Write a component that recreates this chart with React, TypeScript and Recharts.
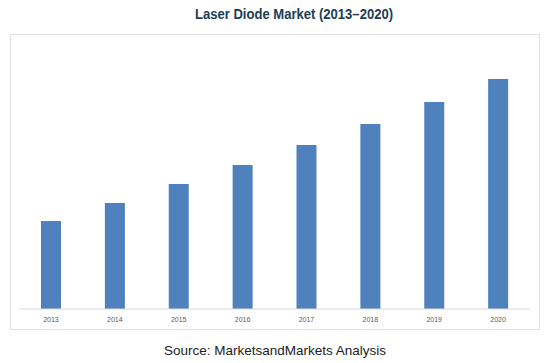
import { BarChart, Bar, XAxis, YAxis } from 'recharts'

// Laser Diode Market, 2013–2020 (arbitrary units)
const years = ['2013', '2014', '2015', '2016', '2017', '2018', '2019', '2020']
const marketSize = [4.4, 5.3, 6.25, 7.2, 8.2, 9.25, 10.35, 11.5]

const data = years.map((year, i) => ({ year, value: marketSize[i] }))

export default function App() {
  return (
    <div
      style={{
        position: 'absolute',
        left: 0,
        top: 0,
        width: 550,
        height: 363,
        background: '#fff',
        fontFamily: 'Arial, "Liberation Sans", sans-serif',
      }}
    >
      <div
        style={{
          position: 'absolute',
          left: 0,
          top: 6,
          width: 588,
          textAlign: 'center',
          fontFamily: '"Liberation Sans Narrow", "Arial Narrow", Arial, sans-serif',
          fontWeight: 'bold',
          fontSize: 14.5,
          color: '#1c3d55',
          transform: 'scaleX(0.9)',
          transformOrigin: '294px 0',
        }}
      >
        Laser Diode Market (2013–2020)
      </div>
      <div
        style={{
          position: 'absolute',
          left: 10,
          top: 34,
          width: 528,
          height: 294,
          border: '1px solid #e0e0e0',
        }}
      />
      <div style={{ position: 'absolute', left: 0, top: 0 }}>
        <BarChart
          width={550}
          height={363}
          data={data}
          margin={{ top: 69, right: 20, left: 19, bottom: 34 }}
          barSize={20}
        >
          <YAxis hide domain={[0, 12]} />
          <XAxis
            dataKey="year"
            height={20}
            tickLine={false}
            axisLine={{ stroke: '#d9d9d9' }}
            tick={{ fontSize: 7, fill: '#595959' }}
            interval={0}
          />
          <Bar dataKey="value" fill="#4f81bd" isAnimationActive={false} />
        </BarChart>
      </div>
      <div
        style={{
          position: 'absolute',
          left: 0,
          top: 343,
          width: 550,
          textAlign: 'center',
          fontSize: 13.5,
          color: '#222',
        }}
      >
        Source: MarketsandMarkets Analysis
      </div>
    </div>
  )
}
